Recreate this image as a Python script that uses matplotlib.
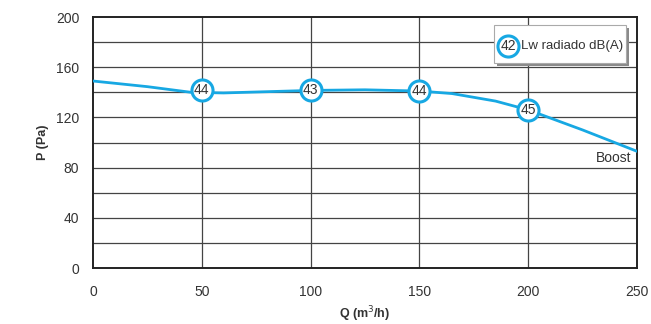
import matplotlib
matplotlib.use("Agg")
import matplotlib.pyplot as plt
from matplotlib.patches import Rectangle

# curve
q = [0, 25, 45, 60, 80, 100, 125, 150, 165, 185, 200, 225, 250]
p = [149, 144.5, 140, 139.5, 140.5, 141.5, 142, 141, 139, 133, 126, 110, 93]

# sound level markers
mq = [50, 100, 150, 200]
mp = [142, 141.5, 141, 126]
mlab = ["44", "43", "44", "45"]

xticks = [0, 50, 100, 150, 200, 250]
yticks = [0, 40, 80, 120, 160, 200]

blue = "#17a8e3"
dark = "#333333"

plt.rcParams["font.family"] = ["Liberation Sans", "DejaVu Sans"]

fig = plt.figure(figsize=(6.51, 3.24), dpi=100)
ax = fig.add_axes([0.1429, 0.1728, 0.8356, 0.7747])
ax.set_xlim(0, 250)
ax.set_ylim(0, 200)

for y in range(20, 200, 20):
    ax.axhline(y, color="#444444", lw=0.9, zorder=1)
for x in [50, 100, 150, 200]:
    ax.axvline(x, color="#444444", lw=0.9, zorder=1)

ax.plot(q, p, color=blue, lw=2, zorder=3)
ax.scatter(mq, mp, s=230, facecolor="white", edgecolor=blue, linewidth=2.2, zorder=4)
for a, b, t in zip(mq, mp, mlab):
    ax.text(a, b, t, ha="center", va="center", fontsize=10, color=dark, zorder=5)

ax.text(0.99, 0.44, "Boost", transform=ax.transAxes, ha="right", va="center",
        fontsize=10, color=dark)

# legend box with shadow
ax.add_patch(Rectangle((0.743, 0.805), 0.243, 0.151, transform=ax.transAxes,
                       facecolor="#8a8a8a", edgecolor="none", zorder=6))
ax.add_patch(Rectangle((0.737, 0.817), 0.243, 0.151, transform=ax.transAxes,
                       facecolor="white", edgecolor="#aaaaaa", lw=0.8, zorder=7))
ax.scatter([0.763], [0.885], s=230, transform=ax.transAxes, facecolor="white",
           edgecolor=blue, linewidth=2.2, zorder=8)
ax.text(0.763, 0.885, "42", transform=ax.transAxes, ha="center", va="center",
        fontsize=10, color=dark, zorder=9)
ax.text(0.786, 0.885, "Lw radiado dB(A)", transform=ax.transAxes, ha="left",
        va="center", fontsize=9.5, color=dark, zorder=9)

ax.set_xticks(xticks)
ax.set_yticks(yticks)
ax.tick_params(length=0, labelsize=10, colors=dark)
ax.tick_params(axis="y", pad=10)
ax.tick_params(axis="x", pad=12)
for s in ax.spines.values():
    s.set_linewidth(1.4)
    s.set_color("#222222")

ax.set_xlabel("Q (m$^3$/h)", fontsize=9, fontweight="bold", color=dark, labelpad=4)
ax.set_ylabel("P (Pa)", fontsize=9, fontweight="bold", color=dark, labelpad=5)

fig.savefig("out.png", dpi=100)
